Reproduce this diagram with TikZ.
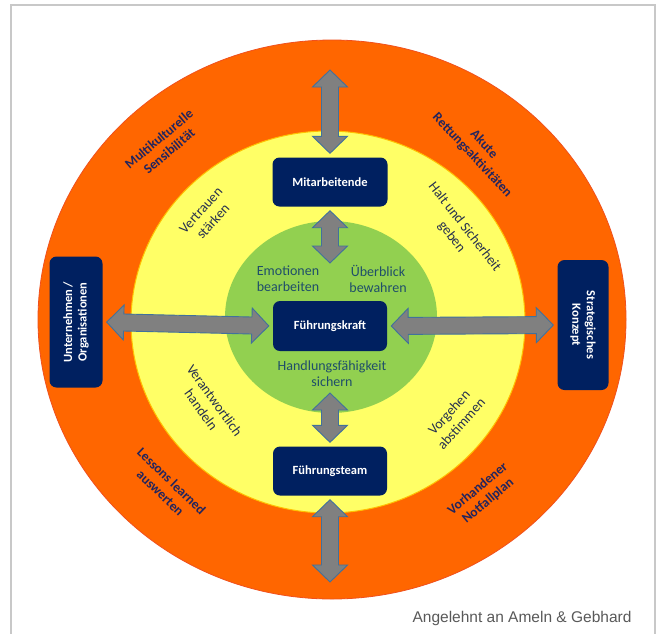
\documentclass[tikz,border=0pt]{standalone}
\usepackage{fontspec}
\setmainfont{Carlito}
\newfontfamily\creditfont{Liberation Sans}
\usepackage{tikz}
\usetikzlibrary{calc}
\definecolor{ringorange}{HTML}{FF6600}
\definecolor{ringedge}{HTML}{F0501E}
\definecolor{ringyellow}{HTML}{FFFF66}
\definecolor{yellowedge}{HTML}{FFC000}
\definecolor{ringgreen}{HTML}{92D050}
\definecolor{boxnavy}{HTML}{002060}
\definecolor{arrowgray}{HTML}{808080}
\definecolor{arrowedge}{HTML}{41719C}
\definecolor{orangetext}{HTML}{22255E}
\definecolor{yellowtext}{HTML}{26304F}
\definecolor{greentext}{HTML}{1F4E6A}
\definecolor{creditgray}{HTML}{595959}
\definecolor{framegray}{HTML}{C8C8C8}

\tikzset{
  navybox/.style={fill=boxnavy, rounded corners=7pt, text=white, align=center,
    inner sep=0pt, font=\bfseries\fontsize{12.5}{14.5}\selectfont},
  outerlabel/.style={text=orangetext, align=center, font=\bfseries\fontsize{13.5}{16}\selectfont},
  middlelabel/.style={text=yellowtext, align=center, font=\fontsize{14}{16.5}\selectfont},
  innerlabel/.style={text=greentext, align=center, font=\fontsize{14}{16}\selectfont},
  dblarrow/.style={draw=arrowedge, fill=arrowgray, line width=0.9pt,
    to path={let \p1=($(\tikztotarget)-(\tikztostart)$), \n1={veclen(\x1,\y1)},
      \n2={atan2(\y1,\x1)} in
      {[shift={(\tikztostart)}, rotate=\n2]
      (4pt,0pt) -- (21pt,17.5pt) -- (21pt,8.5pt) -- (\n1-21pt,8.5pt) -- (\n1-21pt,17.5pt)
      -- (\n1-4pt,0pt) -- (\n1-21pt,-17.5pt) -- (\n1-21pt,-8.5pt) -- (21pt,-8.5pt)
      -- (21pt,-17.5pt) -- cycle}}}
}

\begin{document}
\begin{tikzpicture}[x=1pt,y=-1pt]
  \useasboundingbox[fill=white] (0,0) rectangle (661,633);
  \draw[framegray, line width=2pt] (11,645) -- (11,5) -- (655,5) -- (655,645);
  % rings
  \draw[fill=ringorange, draw=ringedge, line width=0.8pt] (332,319.5) ellipse [x radius=294, y radius=279.5];
  \draw[fill=ringyellow, draw=yellowedge, line width=1pt] (328,322) ellipse [x radius=197, y radius=191];
  \fill[ringgreen] (331,317) ellipse [x radius=106, y radius=96];
  %
  % boxes
  \node[navybox, minimum width=115pt, minimum height=49pt] (mit) at (330,182) {Mitarbeitende};
  \node[navybox, minimum width=114pt, minimum height=50pt] (kraft) at (330,326) {Führungskraft};
  \node[navybox, minimum width=114pt, minimum height=49pt] (team) at (330,471) {Führungsteam};
  \node[navybox, rotate=90, minimum width=131pt, minimum height=53pt] (unt) at (76,322) {Unternehmen /\\Organisationen};
  \node[navybox, rotate=-90, minimum width=130pt, minimum height=51pt] (strat) at (583,325) {Strategisches\\Konzept};
  \coordinate (topend) at (330,66);
  \coordinate (botend) at (330,586);
  \coordinate (upperend) at (330,267);
  \coordinate (lowerend) at (330,389);
  %
  % outer ring
  \node[outerlabel, rotate=40] (multi) at (164,145) {Multikulturelle\\Sensibilität};
  \node[outerlabel, rotate=-47] (akut) at (478,150) {Akute\\Rettungsaktivitäten};
  \node[outerlabel, rotate=-44] (lessons) at (166,487) {Lessons learned\\auswerten};
  \node[outerlabel, rotate=40] (notfall) at (483,495) {Vorhandener\\Notfallplan};
  % middle ring
  \node[middlelabel, rotate=48] (vertrauen) at (207,216) {Vertrauen\\stärken};
  \node[middlelabel, rotate=-52] (halt) at (458,232) {Halt und Sicherheit\\geben};
  \node[middlelabel, rotate=-54] (verantw) at (208,405) {Verantwortlich\\handeln};
  \node[middlelabel, rotate=48] (vorgehen) at (455,418) {Vorgehen\\abstimmen};
  % inner circle
  \node[innerlabel] (emotion) at (288,279) {Emotionen\\bearbeiten};
  \node[innerlabel] (ueberblick) at (378,279) {Überblick\\bewahren};
  \node[innerlabel] (handlung) at (332,374) {Handlungsfähigkeit\\sichern};
  %
  % arrows
  \draw[dblarrow] (topend) to (mit.north);
  \draw[dblarrow] (mit.south) to (upperend);
  \draw[dblarrow] (lowerend) to (team.north);
  \draw[dblarrow] (team.south) to (botend);
  \draw[dblarrow] (unt.south) to (kraft.west);
  \draw[dblarrow] (kraft.east) to (strat.south);
  %
  \node[text=creditgray, font=\creditfont\fontsize{15.5}{17}\selectfont] (credit) at (522,618) {Angelehnt an Ameln \& Gebhard};
\end{tikzpicture}
\end{document}
